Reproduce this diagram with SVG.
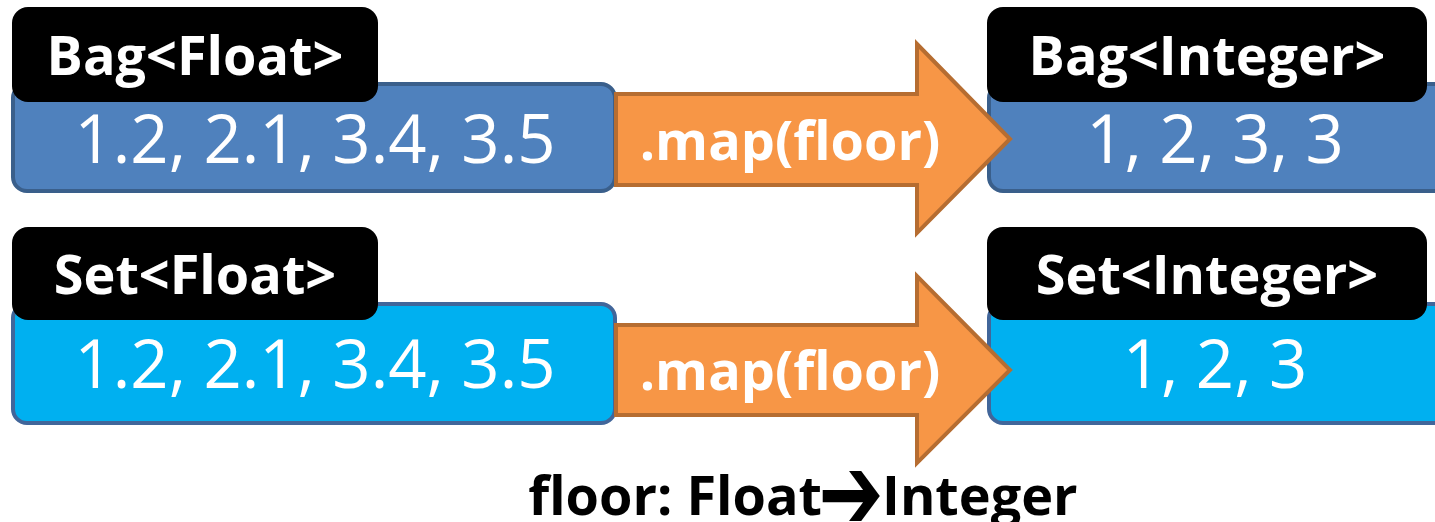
<svg xmlns="http://www.w3.org/2000/svg" width="1435" height="522" viewBox="0 0 1435 522">
<style>
.lbl{fill:#000;}
.lt{font-family:"Open Sans","Noto Sans",sans-serif;font-weight:bold;font-size:54px;fill:#fff;text-anchor:middle;}
.val{font-family:"Open Sans","Noto Sans",sans-serif;font-size:67px;fill:#fff;text-anchor:middle;}
.bag{fill:#4F81BD;stroke:#3A5F8B;stroke-width:4;}
.set{fill:#00B0F0;stroke:#41669A;stroke-width:4;}
.arr{fill:#F79646;stroke:#B66D31;stroke-width:4;stroke-linejoin:miter;}
.at{font-family:"Open Sans","Noto Sans",sans-serif;font-weight:bold;font-size:54px;fill:#fff;text-anchor:middle;}
.ft{font-family:"Open Sans","Noto Sans",sans-serif;font-weight:bold;font-size:54px;fill:#000;}
.fa{font-family:"DejaVu Sans",sans-serif;font-size:60px;fill:#000;text-anchor:middle;}
</style>
<g id="bagFloat">
<rect class="bag" x="13" y="84" width="602" height="107" rx="14"/>
<rect class="lbl" x="12" y="7" width="366" height="95" rx="16"/>
<text class="lt" x="195" y="75">Bag&lt;Float&gt;</text>
<text class="val" x="315" y="163">1.2, 2.1, 3.4, 3.5</text>
</g>
<g id="bagInteger">
<rect class="bag" x="989" y="84" width="460" height="107" rx="14"/>
<rect class="lbl" x="987" y="7" width="440" height="95" rx="16"/>
<text class="lt" x="1207" y="75">Bag&lt;Integer&gt;</text>
<text class="val" x="1215" y="163">1, 2, 3, 3</text>
</g>
<g id="setFloat">
<rect class="set" x="13" y="304" width="602" height="119" rx="14"/>
<rect class="lbl" x="12" y="227" width="366" height="93" rx="16"/>
<text class="lt" x="195" y="294">Set&lt;Float&gt;</text>
<text class="val" x="315" y="388">1.2, 2.1, 3.4, 3.5</text>
</g>
<g id="setInteger">
<rect class="set" x="989" y="304" width="460" height="119" rx="14"/>
<rect class="lbl" x="987" y="227" width="440" height="93" rx="16"/>
<text class="lt" x="1207" y="294">Set&lt;Integer&gt;</text>
<text class="val" x="1215" y="388">1, 2, 3</text>
</g>
<g id="connectors">
<g id="arrow1">
<path class="arr" d="M616,94 L917,94 L917,44 L1010,139 L917,233 L917,185 L616,185 Z"/>
<text class="at" x="790" y="160">.map(floor)</text>
</g>
<g id="arrow2">
<path class="arr" d="M616,325 L917,325 L917,276 L1010,370 L917,463 L917,415 L616,415 Z"/>
<text class="at" x="790" y="390">.map(floor)</text>
</g>
</g>
<g id="caption">
<text class="ft" x="822" y="515" text-anchor="end">floor: Float</text>
<text class="fa" transform="translate(851,492) scale(1.3,1.75)" x="0" y="21">➔</text>
<text class="ft" x="882" y="515">Integer</text>
</g>
</svg>
